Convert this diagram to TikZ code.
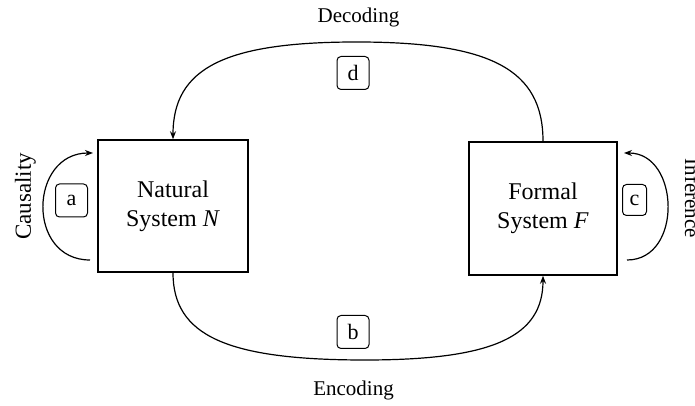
\documentclass[tikz,border=0pt]{standalone}
\usepackage{fontspec}
\setmainfont{Liberation Serif}
\usetikzlibrary{arrows.meta}
\begin{document}
\begin{tikzpicture}[x=1pt,y=1pt,
  sysbox/.style={draw, line width=1.5pt, minimum width=150pt, minimum height=132pt, align=center, font=\fontsize{24}{29}\selectfont, inner sep=0pt},
  tag/.style={draw, line width=1pt, rounded corners=4pt, minimum width=32pt, minimum height=33pt, inner sep=0pt, font=\fontsize{22}{26}\selectfont},
  lbl/.style={font=\fontsize{21}{25}\selectfont, anchor=base, inner sep=0pt},
  conn/.style={line width=1.2pt, -{Stealth[length=8pt,width=6pt]}}]
\useasboundingbox (0,0) rectangle (695,406);
\clip (0,0) rectangle (695,406);
% systems
\node[sysbox] (N) at (173,200) {Natural\\System \textit{N}};
\node[sysbox, minimum width=148pt, minimum height=133pt] (F) at (543,197.5) {Formal\\System \textit{F}};
% decoding
\coordinate (dtop) at (356.5,364);
\draw[conn] (F.north) .. controls +(0,72) and +(134,0) .. (dtop)
  .. controls +(-132,0) and +(0,71) .. (N.north);
% encoding
\coordinate (ebot) at (365,46);
\draw[conn] (N.south) .. controls +(0,-63) and +(-138,0) .. (ebot)
  .. controls +(128,0) and +(0,-61) .. (F.south);
% causality
\coordinate (aS) at (90,146);
\coordinate (aE) at (93,253);
\draw[conn] (aS) .. controls +(-64,0) and +(-64,0) .. (aE);
% inference
\coordinate (cS) at (627,146);
\coordinate (cE) at (624,253);
\draw[conn] (cS) .. controls +(56,0) and +(56,0) .. (cE);
% tags
\node[tag] (d) at (353,333) {d};
\node[tag] (b) at (353,74) {b};
\node[tag] (a) at (71.5,205.5) {a};
\node[tag, minimum width=24pt, minimum height=31pt] (c) at (634.5,206) {c};
% labels
\node[lbl] (dec) at (358.5,383) {Decoding};
\node[lbl] (enc) at (353.5,10) {Encoding};
\node[lbl, rotate=90, font=\fontsize{23}{27}\selectfont] (cau) at (31,209.5) {Causality};
\node[lbl, rotate=-90] (inf) at (685,207.5) {Inference};
\end{tikzpicture}
\end{document}
